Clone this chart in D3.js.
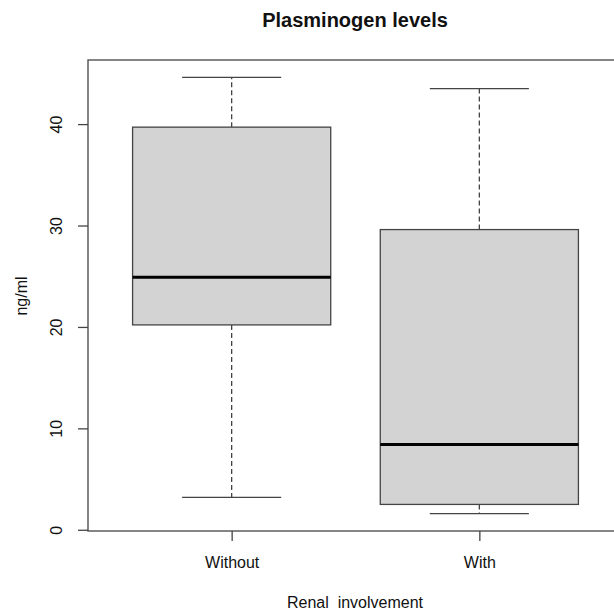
<!DOCTYPE html>
<html>
<head>
<meta charset="utf-8">
<script src="https://cdn.jsdelivr.net/npm/d3@7"></script>
<style>
  body { margin: 0; background: #fff; }
  text { font-family: "Liberation Sans", Arial, sans-serif; fill: #111; }
</style>
</head>
<body>
<svg id="chart" width="614" height="610"></svg>
<script>
// data
const groups = ["Without", "With"];
const whiskerLow = [3.2, 1.6];
const q1 = [20.2, 2.5];
const median = [24.9, 8.4];
const q3 = [39.7, 29.6];
const whiskerHigh = [44.6, 43.5];
const yTicks = [0, 10, 20, 30, 40];

const svg = d3.select("#chart");
const plotLeft = 88, plotTop = 60, plotRight = 623, plotBottom = 531;

// R style limits: 4% padding on both sides
const lo = d3.min(whiskerLow), hi = d3.max(whiskerHigh);
const pad = (hi - lo) * 0.04;
const y = d3.scaleLinear().domain([lo - pad, hi + pad]).range([plotBottom, plotTop]);
const x = d3.scaleLinear().domain([0.42, groups.length + 0.58]).range([plotLeft, plotRight]);
const boxW = x(1.4) - x(0.6);
const capW = boxW / 2;
const lineCol = "#444";

// frame
svg.append("rect")
  .attr("x", plotLeft).attr("y", plotTop)
  .attr("width", plotRight - plotLeft).attr("height", plotBottom - plotTop)
  .attr("fill", "none").attr("stroke", lineCol).attr("stroke-width", 1.3);

// y axis
const yAxis = svg.append("g").attr("transform", `translate(${plotLeft},0)`)
  .call(d3.axisLeft(y).tickValues(yTicks).tickSize(10).tickSizeOuter(0).tickPadding(0));
yAxis.select(".domain").remove();
yAxis.selectAll(".tick line").attr("stroke", lineCol).attr("stroke-width", 1.3);
yAxis.selectAll(".tick text")
  .attr("transform", "rotate(-90)")
  .attr("x", 0).attr("y", -26).attr("dy", 0)
  .attr("text-anchor", "middle")
  .style("font-size", "16px").style("font-family", "Liberation Sans, Arial, sans-serif").attr("fill", "#111");

// x axis
const xAxis = svg.append("g").attr("transform", `translate(0,${plotBottom})`)
  .call(d3.axisBottom(x).tickValues(groups.map((d, i) => i + 1))
    .tickFormat((d) => groups[d - 1]).tickSize(10).tickSizeOuter(0).tickPadding(0));
xAxis.select(".domain").remove();
xAxis.selectAll(".tick line").attr("stroke", lineCol).attr("stroke-width", 1.3);
xAxis.selectAll(".tick text")
  .attr("y", 37).attr("dy", 0)
  .style("font-size", "16px").style("font-family", "Liberation Sans, Arial, sans-serif").attr("fill", "#111");

// boxes
groups.forEach((g, i) => {
  const cx = x(i + 1);
  const b = svg.append("g");

  // whiskers
  b.append("line")
    .attr("x1", cx).attr("x2", cx).attr("y1", y(q3[i])).attr("y2", y(whiskerHigh[i]))
    .attr("stroke", lineCol).attr("stroke-width", 1.3).attr("stroke-dasharray", "5,3");
  b.append("line")
    .attr("x1", cx).attr("x2", cx).attr("y1", y(q1[i])).attr("y2", y(whiskerLow[i]))
    .attr("stroke", lineCol).attr("stroke-width", 1.3).attr("stroke-dasharray", "5,3");

  // caps
  [whiskerHigh[i], whiskerLow[i]].forEach((v) => {
    b.append("line")
      .attr("x1", cx - capW / 2).attr("x2", cx + capW / 2).attr("y1", y(v)).attr("y2", y(v))
      .attr("stroke", lineCol).attr("stroke-width", 1.3);
  });

  // box
  b.append("rect")
    .attr("x", cx - boxW / 2).attr("y", y(q3[i]))
    .attr("width", boxW).attr("height", y(q1[i]) - y(q3[i]))
    .attr("fill", "#d3d3d3").attr("stroke", lineCol).attr("stroke-width", 1.3);

  // median
  b.append("line")
    .attr("x1", cx - boxW / 2).attr("x2", cx + boxW / 2)
    .attr("y1", y(median[i])).attr("y2", y(median[i]))
    .attr("stroke", "#000").attr("stroke-width", 3);
});

// titles
svg.append("text").attr("x", 355).attr("y", 27).attr("text-anchor", "middle")
  .style("font-size", "20px").style("font-weight", "bold").text("Plasminogen levels");
svg.append("text").attr("x", 355).attr("y", 608).attr("text-anchor", "middle")
  .style("font-size", "16px").style("white-space", "pre").text("Renal  involvement");
svg.append("text").attr("transform", "translate(27,296) rotate(-90)").attr("text-anchor", "middle")
  .style("font-size", "16px").text("ng/ml");
</script>
</body>
</html>
